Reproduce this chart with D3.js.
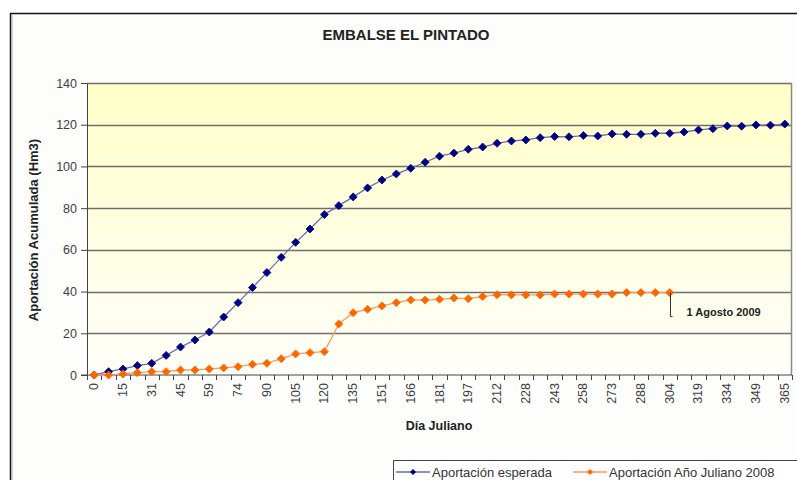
<!DOCTYPE html>
<html>
<head>
<meta charset="utf-8">
<script src="https://cdn.jsdelivr.net/npm/d3@7"></script>
<style>
  body { margin: 0; background: #fff; }
  svg { display: block; font-family: Arial, "Liberation Sans", sans-serif; }
</style>
</head>
<body>
<div id="chart"></div>
<script>
// julian day categories (every ~7.6 days), only every second one is labelled
var days = [0, 8, 15, 23, 31, 38, 45, 52, 59, 67, 74, 82, 90, 97, 105, 112, 120, 128,
    135, 143, 151, 158, 166, 173, 181, 189, 197, 204, 212, 220, 228, 235, 243, 250,
    258, 266, 273, 281, 288, 296, 304, 311, 319, 326, 334, 341, 349, 357, 365]

var esperada = [0, 1.6, 2.9, 4.5, 5.6, 9.4, 13.4, 16.8, 20.6, 27.8, 34.7, 41.9, 49.1, 56.4,
    63.6, 70.0, 76.9, 81.2, 85.4, 89.7, 93.5, 96.4, 99.1, 102.0, 104.9, 106.4, 108.2,
    109.3, 111.1, 112.2, 112.7, 113.8, 114.3, 114.2, 114.8, 114.6, 115.6, 115.4, 115.4,
    115.9, 115.9, 116.5, 117.5, 118.1, 119.4, 119.3, 119.9, 119.8, 120.3]

var anio2008 = [0, 0, 0.5, 1.1, 1.6, 1.6, 2.4, 2.4, 2.9, 3.4, 4.0, 5.1, 5.6, 7.8, 10.1, 10.7,
    11.2, 24.5, 29.9, 31.5, 33.1, 34.7, 36.0, 35.9, 36.3, 36.9, 36.6, 37.6, 38.5, 38.4,
    38.4, 38.4, 38.8, 38.8, 38.8, 38.8, 38.8, 39.5, 39.5, 39.5, 39.5]

var yTicks = [0, 20, 40, 60, 80, 100, 120, 140]

var W = 797, H = 480
var margin = {top: 83, right: 5, bottom: 105, left: 87}
var width = 792 - margin.left
var height = 375 - margin.top

var svg = d3.select('#chart').append('svg')
    .attr('width', W)
    .attr('height', H)

// chart area
svg.append('rect')
    .attr('x', 10).attr('y', 13)
    .attr('width', W).attr('height', H)
    .attr('fill', '#fdfdfb')
svg.append('path')
    .attr('d', 'M10.5,' + H + 'V13.5H' + W)
    .attr('fill', 'none')
    .attr('stroke', '#111')
    .attr('stroke-width', 1.5)
svg.append('line')
    .attr('x1', 12).attr('x2', 12).attr('y1', 15).attr('y2', H)
    .attr('stroke', '#aaa')

var defs = svg.append('defs')
var grad = defs.append('linearGradient')
    .attr('id', 'bg')
    .attr('x1', 0).attr('x2', 0).attr('y1', 0).attr('y2', 1)
grad.append('stop').attr('offset', '0%').attr('stop-color', '#ffffc8')
grad.append('stop').attr('offset', '100%').attr('stop-color', '#fffffa')

var g = svg.append('g')
    .attr('transform', `translate(${margin.left}, ${margin.top})`)

var x = d3.scaleBand().domain(d3.range(days.length)).range([0, width])
var y = d3.scaleLinear().domain([0, 140]).range([height, 0])
var cx = i => x(i) + x.bandwidth() / 2

g.append('rect')
    .attr('width', width)
    .attr('height', height)
    .attr('fill', 'url(#bg)')

// grid
g.append('g')
    .selectAll('line')
    .data(yTicks.slice(1))
    .enter().append('line')
    .attr('x1', 0).attr('x2', width)
    .attr('y1', d => Math.round(y(d)) + 0.5)
    .attr('y2', d => Math.round(y(d)) + 0.5)
    .attr('stroke', '#6e6e6e')
    .attr('stroke-width', 1.3)

// plot border (right side)
g.append('line')
    .attr('x1', width - 0.5).attr('x2', width - 0.5)
    .attr('y1', 0).attr('y2', height)
    .attr('stroke', '#8a8a8a')
    .attr('stroke-width', 1.5)

// y axis
var yAxis = g.append('g')
    .attr('class', 'y axis')
    .call(d3.axisLeft(y).tickValues(yTicks).tickSize(6).tickPadding(4))
yAxis.select('.domain').attr('stroke', '#444')
yAxis.selectAll('.tick line').attr('stroke', '#444')
yAxis.selectAll('text')
    .attr('font-size', 12.5)
    .attr('fill', '#404040')
    .attr('font-family', 'Arial, "Liberation Sans", sans-serif')

// x axis: ticks at every category boundary
var xa = g.append('g')
    .attr('class', 'x axis')
    .attr('transform', `translate(0, ${height})`)
xa.append('line')
    .attr('x1', -6).attr('x2', width)
    .attr('stroke', '#444')
xa.selectAll('.tk')
    .data(d3.range(days.length + 1))
    .enter().append('line')
    .attr('class', 'tk')
    .attr('x1', i => Math.round(i * x.step()) + 0.5)
    .attr('x2', i => Math.round(i * x.step()) + 0.5)
    .attr('y1', 0).attr('y2', 5)
    .attr('stroke', '#444')
xa.selectAll('.lbl')
    .data(d3.range(0, days.length, 2))
    .enter().append('text')
    .attr('class', 'lbl')
    .attr('transform', i => `translate(${cx(i) + 4}, 8) rotate(-90)`)
    .attr('text-anchor', 'end')
    .attr('font-size', 12.5)
    .attr('fill', '#404040')
    .text(i => days[i])

// lines
var line = d3.line()
    .x((d, i) => cx(i))
    .y(d => y(d))

// square diamond marker like the spreadsheet one
var diamond = 'M0,-4L4,0L0,4L-4,0Z'

function drawSeries(data, lineColor, markColor) {
    g.append('path')
        .datum(data)
        .attr('fill', 'none')
        .attr('stroke', lineColor)
        .attr('stroke-width', 1.3)
        .attr('d', line)
    g.append('g')
        .selectAll('path')
        .data(data)
        .enter().append('path')
        .attr('d', diamond)
        .attr('transform', (d, i) => `translate(${cx(i)}, ${y(d)})`)
        .attr('fill', markColor)
        .attr('stroke', markColor)
        .attr('stroke-width', 0.8)
        .attr('stroke-linejoin', 'round')
}

drawSeries(esperada, '#6a6ab8', '#000080')
drawSeries(anio2008, '#ff9a5a', '#ff6600')

// annotation at last 2008 point
var last = anio2008.length - 1
var ax = Math.round(cx(last)) + 0.5
var ay = y(anio2008[last])
g.append('path')
    .attr('d', `M${ax},${ay}V${ay + 24}h2`)
    .attr('fill', 'none')
    .attr('stroke', '#333')
    .attr('stroke-width', 1)
g.append('text')
    .attr('x', ax + 16)
    .attr('y', ay + 23)
    .attr('font-size', 11)
    .attr('font-weight', 'bold')
    .attr('fill', '#222')
    .text('1 Agosto 2009')

// titles
svg.append('text')
    .attr('x', 406)
    .attr('y', 40)
    .attr('text-anchor', 'middle')
    .attr('font-size', 15)
    .attr('font-weight', 'bold')
    .attr('fill', '#222')
    .text('EMBALSE EL PINTADO')

svg.append('text')
    .attr('x', 439)
    .attr('y', 430)
    .attr('text-anchor', 'middle')
    .attr('font-size', 12.5)
    .attr('font-weight', 'bold')
    .attr('fill', '#222')
    .text('Día Juliano')

svg.append('text')
    .attr('transform', 'translate(38, 230) rotate(-90)')
    .attr('text-anchor', 'middle')
    .attr('font-size', 13)
    .attr('font-weight', 'bold')
    .attr('fill', '#222')
    .text('Aportación Acumulada (Hm3)')

// legend
var lg = svg.append('g').attr('transform', 'translate(393, 460)')
lg.append('rect')
    .attr('x', 0.5).attr('y', 0.5)
    .attr('width', 420).attr('height', 40)
    .attr('fill', '#fff')
    .attr('stroke', '#444')

var legendItems = [
    {name: 'Aportación esperada', line: '#6a6ab8', mark: '#000080', x: 3},
    {name: 'Aportación Año Juliano 2008', line: '#ff9a5a', mark: '#ff6600', x: 180}
]
var li = lg.selectAll('.li')
    .data(legendItems)
    .enter().append('g')
    .attr('class', 'li')
    .attr('transform', d => `translate(${d.x}, 12)`)
li.append('line')
    .attr('x1', 0).attr('x2', 34)
    .attr('stroke', d => d.line)
    .attr('stroke-width', 1.3)
li.append('path')
    .attr('d', 'M0,-3L3,0L0,3L-3,0Z')
    .attr('transform', 'translate(17, 0)')
    .attr('fill', d => d.mark)
li.append('text')
    .attr('x', 36)
    .attr('y', 4.5)
    .attr('font-size', 13)
    .attr('fill', '#333')
    .text(d => d.name)
</script>
</body>
</html>
